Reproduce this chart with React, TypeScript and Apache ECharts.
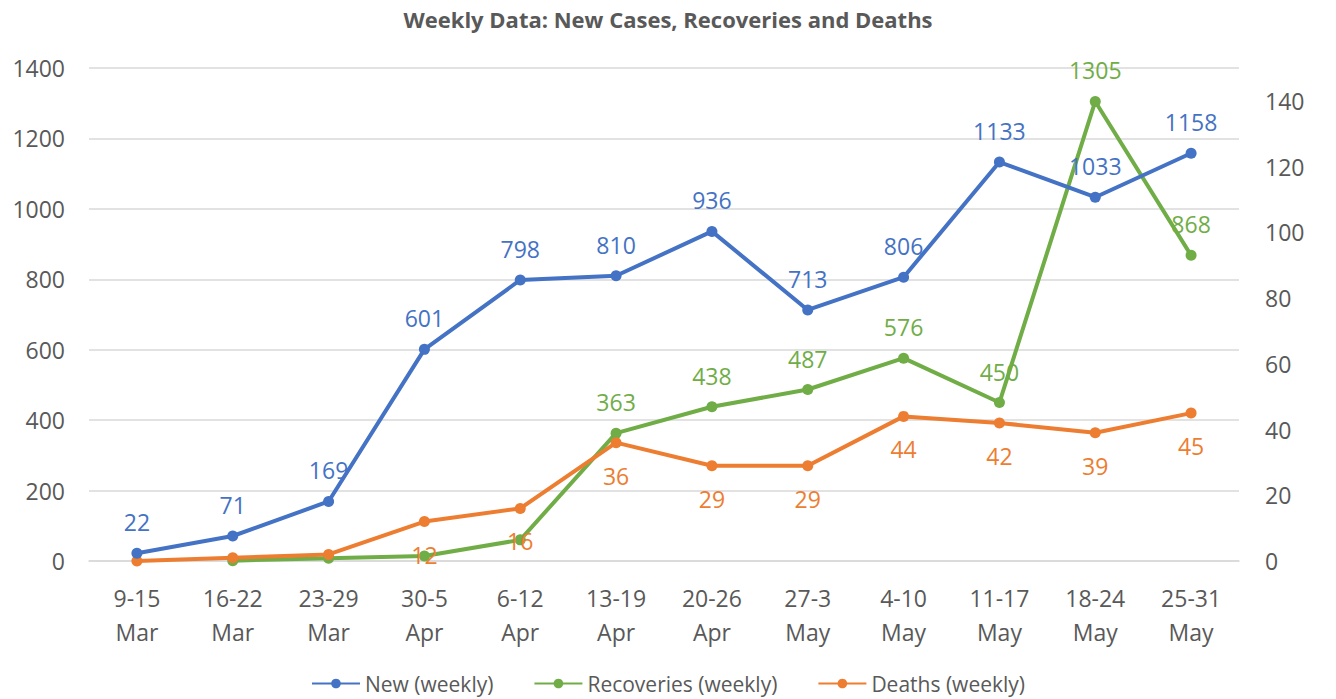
import React, { useEffect, useRef } from "react";
import * as echarts from "echarts";

const categories = [
  "9-15\nMar", "16-22\nMar", "23-29\nMar", "30-5\nApr", "6-12\nApr", "13-19\nApr",
  "20-26\nApr", "27-3\nMay", "4-10\nMay", "11-17\nMay", "18-24\nMay", "25-31\nMay",
];
const newWeekly = [22, 71, 169, 601, 798, 810, 936, 713, 806, 1133, 1033, 1158];
const recoveriesWeekly: (number | null)[] = [null, 1, 8, 14, 60, 363, 438, 487, 576, 450, 1305, 868];
const deathsWeekly = [0, 1, 2, 12, 16, 36, 29, 29, 44, 42, 39, 45];
const recoveriesLabelFrom = 5;
const deathsLabelFrom = 3;

const FONT = "'Open Sans', 'Noto Sans', sans-serif";
const TEXT = "#595959";
const BLUE = "#4472C4";
const GREEN = "#70AD47";
const ORANGE = "#ED7D31";

export default function App() {
  const ref = useRef<HTMLDivElement>(null);
  useEffect(() => {
    if (!ref.current) return;
    const chart = echarts.init(ref.current, undefined, { renderer: "svg" });
    const labelBase = { fontFamily: FONT, fontSize: 23 };
    chart.setOption({
      animation: false,
      backgroundColor: "#ffffff",
      title: {
        text: "Weekly Data: New Cases, Recoveries and Deaths",
        left: "center",
        top: 3,
        textStyle: { fontFamily: FONT, fontSize: 22, fontWeight: "bold", color: TEXT },
      },
      legend: {
        bottom: 0,
        left: "center",
        itemWidth: 48,
        itemHeight: 12,
        itemGap: 40,
        textStyle: { fontFamily: FONT, fontSize: 21, color: TEXT },
        data: ["New (weekly)", "Recoveries (weekly)", "Deaths (weekly)"],
      },
      grid: { left: 89, right: 97, top: 68, bottom: 138, containLabel: false },
      xAxis: {
        type: "category",
        data: categories,
        boundaryGap: true,
        axisLine: { lineStyle: { color: "#d9d9d9", width: 1.5 } },
        axisTick: { show: false },
        axisLabel: {
          fontFamily: FONT,
          fontSize: 23,
          color: TEXT,
          lineHeight: 34,
          margin: 20,
          interval: 0,
        },
      },
      yAxis: [
        {
          type: "value",
          min: 0,
          max: 1400,
          interval: 200,
          axisLine: { show: false },
          axisTick: { show: false },
          splitLine: { lineStyle: { color: "#d9d9d9", width: 1.5 } },
          axisLabel: {
            fontFamily: FONT,
            fontSize: 23,
            color: TEXT,
            margin: 24,
            formatter: (v: number) => String(v),
          },
        },
        {
          type: "value",
          min: 0,
          max: 150,
          interval: 20,
          axisLine: { show: false },
          axisTick: { show: false },
          splitLine: { show: false },
          axisLabel: {
            fontFamily: FONT,
            fontSize: 23,
            color: TEXT,
            margin: 26,
            showMaxLabel: false,
            formatter: (v: number) => (v > 140 ? "" : String(v)),
          },
        },
      ],
      series: [
        {
          name: "New (weekly)",
          type: "line",
          yAxisIndex: 0,
          data: newWeekly,
          color: BLUE,
          lineStyle: { width: 4, color: BLUE },
          symbol: "circle",
          symbolSize: 11,
          itemStyle: { color: BLUE },
          label: { show: true, position: "top", distance: 14, color: BLUE, ...labelBase },
          z: 3,
        },
        {
          name: "Recoveries (weekly)",
          type: "line",
          yAxisIndex: 0,
          data: recoveriesWeekly.map((v, i) => ({
            value: v,
            label: { show: i >= recoveriesLabelFrom },
          })),
          color: GREEN,
          lineStyle: { width: 4, color: GREEN },
          symbol: "circle",
          symbolSize: 11,
          itemStyle: { color: GREEN },
          label: { position: "top", distance: 14, color: GREEN, ...labelBase },
          z: 2,
        },
        {
          name: "Deaths (weekly)",
          type: "line",
          yAxisIndex: 1,
          data: deathsWeekly.map((v, i) => ({
            value: v,
            label: { show: i >= deathsLabelFrom },
          })),
          color: ORANGE,
          lineStyle: { width: 4, color: ORANGE },
          symbol: "circle",
          symbolSize: 11,
          itemStyle: { color: ORANGE },
          label: { position: "bottom", distance: 16, color: ORANGE, ...labelBase },
          z: 2,
        },
      ],
    });
    return () => chart.dispose();
  }, []);
  return (
    <div
      ref={ref}
      style={{ position: "fixed", left: 0, top: 0, width: 1336, height: 699 }}
    />
  );
}
